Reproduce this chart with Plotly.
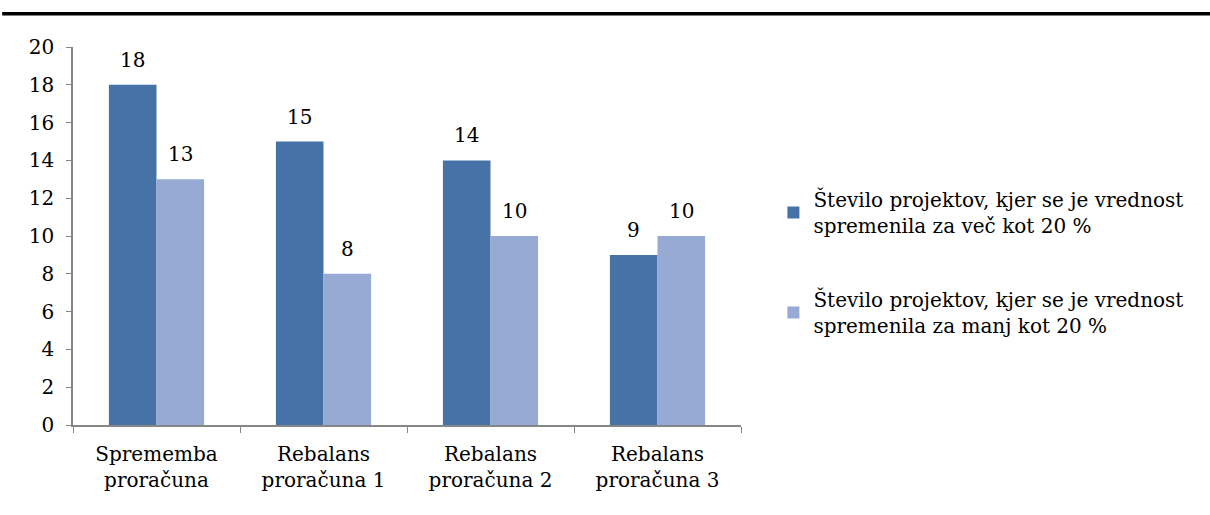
import plotly.graph_objects as go

categories = ["Sprememba<br>proračuna", "Rebalans<br>proračuna 1",
              "Rebalans<br>proračuna 2", "Rebalans<br>proračuna 3"]
vec_kot_20 = [18, 15, 14, 9]
manj_kot_20 = [13, 8, 10, 10]
series_names = ["Število projektov, kjer se je vrednost<br>spremenila za več kot 20 %",
                "Število projektov, kjer se je vrednost<br>spremenila za manj kot 20 %"]
y_ticks = [0, 2, 4, 6, 8, 10, 12, 14, 16, 18, 20]

FONT = "DejaVu Serif"
SIZE = 20
DARK = "#4672A7"
LIGHT = "#96AAD3"
AXIS = "#868686"

fig = go.Figure()
for i, (vals, name, col) in enumerate([(vec_kot_20, series_names[0], DARK),
                                        (manj_kot_20, series_names[1], LIGHT)]):
    fig.add_trace(go.Bar(x=categories, y=vals, name=name, marker_color=col,
                         marker_line_width=0, legendgroup=f"g{i}"))

# value labels above each bar
for vals, shift in [(vec_kot_20, -24), (manj_kot_20, 24)]:
    for c, v in zip(categories, vals):
        fig.add_annotation(x=c, y=v, text=str(v), showarrow=False,
                           xshift=shift, yanchor="bottom", yshift=11,
                           font=dict(family=FONT, size=SIZE, color="#000"))

# rule across the top of the page
fig.add_shape(type="line", xref="paper", yref="paper",
              x0=-0.106, x1=1.703, y0=1.088, y1=1.088,
              line=dict(color="#000", width=3.5))

fig.update_layout(
    width=1210, height=515,
    margin=dict(l=73, r=469, t=47, b=90),
    paper_bgcolor="white", plot_bgcolor="white",
    barmode="group", bargap=0.43, bargroupgap=0,
    font=dict(family=FONT, size=SIZE, color="#000"),
    showlegend=True,
    legend=dict(x=1.0485, y=0.43, xanchor="left", yanchor="middle",
                tracegroupgap=45, font=dict(family=FONT, size=SIZE, color="#000"),
                itemwidth=30),
)
fig.update_xaxes(showline=True, linecolor=AXIS, linewidth=1.5,
                 ticks="outside", tickson="boundaries", ticklen=6,
                 tickcolor=AXIS, showgrid=False, ticklabelstandoff=10,
                 tickfont=dict(family=FONT, size=SIZE, color="#000"))
fig.update_yaxes(range=[0, 20], tickvals=y_ticks, showline=True,
                 linecolor=AXIS, linewidth=1.5, ticks="outside", ticklen=5,
                 tickcolor=AXIS, showgrid=False, zeroline=False,
                 ticklabelstandoff=8,
                 tickfont=dict(family=FONT, size=SIZE, color="#000"))

fig.write_html("out.html")
